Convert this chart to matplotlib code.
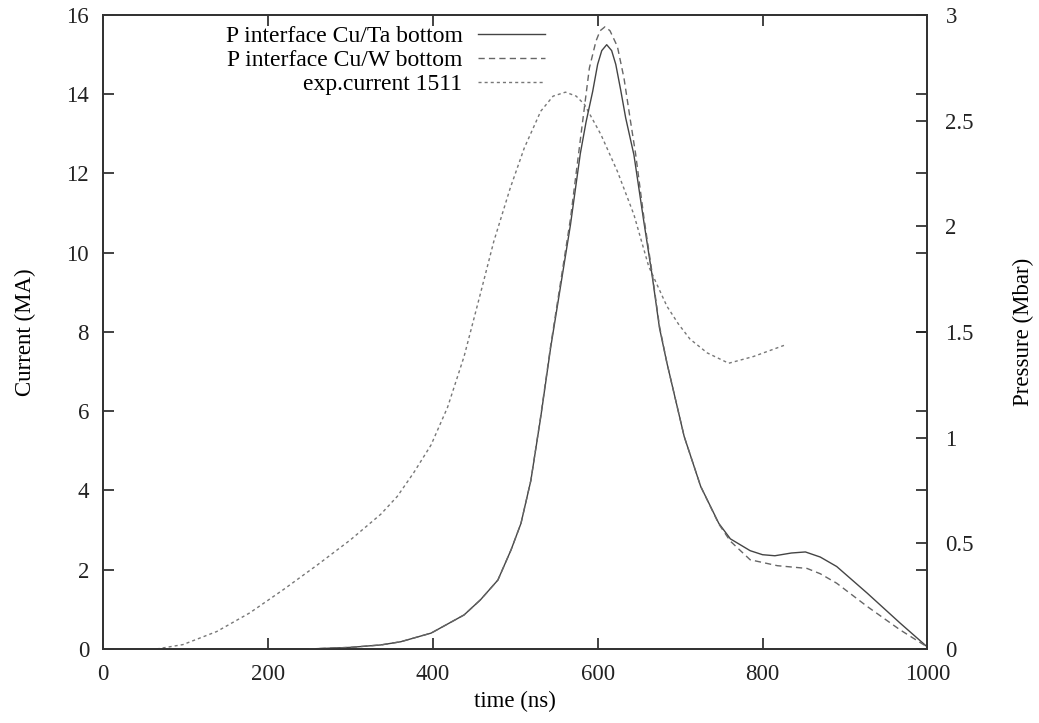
import matplotlib
matplotlib.use("Agg")
import matplotlib.pyplot as plt

plt.rcParams['font.family'] = ['Liberation Serif', 'DejaVu Serif']

# experimental current (MA) vs time (ns)
exp_t = [65, 97, 138, 178, 219, 260, 300, 337, 357, 377, 398, 418, 438, 458, 474,
         494, 511, 531, 546, 561, 574, 584, 604, 624, 644, 662, 684, 698, 712, 733,
         759, 789, 826]
exp_I = [0.0, 0.11, 0.44, 0.91, 1.50, 2.12, 2.75, 3.4, 3.85, 4.45, 5.15, 6.1, 7.38,
         8.98, 10.28, 11.63, 12.64, 13.57, 13.95, 14.05, 13.95, 13.74, 12.98, 12.05,
         10.96, 9.65, 8.65, 8.2, 7.82, 7.47, 7.21, 7.38, 7.66]

# interface pressure Cu/Ta (Mbar)
ta_t = [250, 300, 337, 361, 398, 438, 458, 479, 495, 507, 519, 531, 543, 567, 579,
        586, 594, 600, 605, 611, 617, 622, 628, 634, 644, 656, 666, 675, 684, 705,
        725, 747, 761, 785, 800, 815, 835, 852, 870, 890, 927, 967, 1000]
ta_P = [0, 0.0075, 0.019, 0.034, 0.075, 0.161, 0.233, 0.326, 0.469, 0.594, 0.797,
        1.097, 1.425, 2.006, 2.344, 2.494, 2.638, 2.766, 2.831, 2.859, 2.831, 2.766,
        2.644, 2.513, 2.338, 2.023, 1.770, 1.519, 1.354, 1.005, 0.769, 0.594, 0.521,
        0.465, 0.446, 0.441, 0.454, 0.459, 0.435, 0.39, 0.264, 0.122, 0.009]

# interface pressure Cu/W (Mbar)
w_t = [250, 300, 337, 361, 398, 438, 458, 479, 495, 507, 519, 531, 543, 567, 579,
       590, 598, 603, 609, 615, 624, 632, 640, 646, 656, 666, 675, 684, 705, 725,
       747, 761, 785, 818, 854, 870, 890, 927, 967, 1000]
w_P = [0, 0.0075, 0.019, 0.034, 0.075, 0.161, 0.233, 0.326, 0.469, 0.594, 0.797,
       1.103, 1.434, 2.034, 2.409, 2.749, 2.876, 2.925, 2.944, 2.925, 2.85, 2.7,
       2.494, 2.344, 2.044, 1.781, 1.528, 1.354, 1.005, 0.769, 0.591, 0.51, 0.422,
       0.394, 0.381, 0.356, 0.311, 0.201, 0.09, 0.009]

fig = plt.figure(figsize=(10.39, 7.23), dpi=100)
ax = fig.add_axes([0.0991, 0.1024, 0.7935, 0.877])
ax2 = ax.twinx()

l_exp, = ax.plot(exp_t, exp_I, color='#777777', lw=1.0, dashes=(2.2, 2.2))
l_ta, = ax2.plot(ta_t, ta_P, color='#444444', lw=1.0)
l_w, = ax2.plot(w_t, w_P, color='#666666', lw=1.0, dashes=(4.5, 3))

ax.set_xlim(0, 1000)
ax.set_ylim(0, 16)
ax2.set_ylim(0, 3)
ax.set_xticks(range(0, 1001, 200))
ax.set_yticks(range(0, 17, 2))
ax2.set_yticks([0, 0.5, 1, 1.5, 2, 2.5, 3])
ax2.set_yticklabels(['0', '0.5', '1', '1.5', '2', '2.5', '3'])

fs = 16.5
ax.tick_params(direction='in', length=8, width=1.2, labelsize=fs,
               top=True, right=True, colors='#222222')
ax.tick_params(axis='y', pad=10)
ax.tick_params(axis='x', pad=11)
ax2.tick_params(direction='in', length=8, width=1.2, labelsize=fs, pad=13,
                colors='#222222')
for a in (ax, ax2):
    for s in a.spines.values():
        s.set_linewidth(1.3)
        s.set_color('#333333')

ax.set_xlabel('time (ns)', fontsize=fs, labelpad=4)
ax.set_ylabel('Current (MA)', fontsize=fs, labelpad=22)
ax2.set_ylabel('Pressure (Mbar)', fontsize=fs, labelpad=28)

ax2.legend([l_ta, l_w, l_exp],
           ['P interface Cu/Ta bottom', 'P interface Cu/W bottom', 'exp.current 1511'],
           loc='upper right', bbox_to_anchor=(0.536, 0.983), frameon=False,
           markerfirst=False, handlelength=2.85, handletextpad=0.64,
           labelspacing=0.1, fontsize=17, borderaxespad=0, borderpad=0)

fig.savefig('out.png', dpi=100)
